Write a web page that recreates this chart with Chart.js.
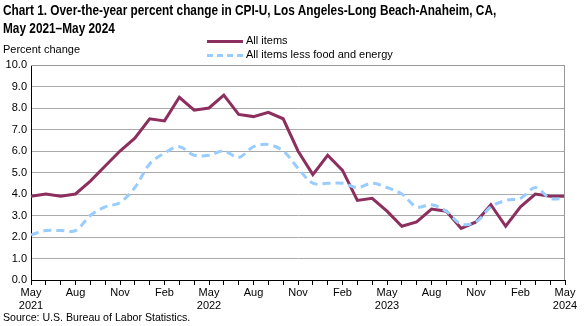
<!DOCTYPE html>
<html>
<head>
<meta charset="utf-8">
<script src="https://cdn.jsdelivr.net/npm/chart.js@4/dist/chart.umd.min.js"></script>
<style>
  body{margin:0;background:#fff;font-family:Arial,"Liberation Sans",sans-serif;}
  #wrap{position:relative;width:586px;height:326px;overflow:hidden;}
  #title{position:absolute;left:3px;top:1px;font-size:14px;font-weight:bold;line-height:18px;color:#000;
    white-space:nowrap;transform:scaleX(0.845);transform-origin:0 0;}
  #ytitle{position:absolute;left:3px;top:43px;font-size:11px;color:#000;}
  .leg{position:absolute;left:207px;font-size:11px;color:#000;height:14px;line-height:14px;white-space:nowrap;}
  .leg span.sw{display:inline-block;width:36px;vertical-align:middle;margin-right:3px;}
  #source{position:absolute;left:3px;top:311px;font-size:10.6px;color:#000;}
  canvas{position:absolute;left:0;top:0;}
</style>
</head>
<body>
<div id="wrap">
  <canvas id="c" width="586" height="326"></canvas>
  <div id="title">Chart 1. Over-the-year percent change in CPI-U, Los Angeles-Long Beach-Anaheim, CA,<br>May 2021–May 2024</div>
  <div id="ytitle">Percent change</div>
  <div class="leg" style="top:33px"><span class="sw" style="border-top:3px solid #8c2f5e"></span>All items</div>
  <div class="leg" style="top:47px"><span class="sw" style="border-top:3px dashed #99ccff"></span>All items less food and energy</div>
  <div id="source">Source: U.S. Bureau of Labor Statistics.</div>
</div>
<script>
const months = ['May 2021','Jun 2021','Jul 2021','Aug 2021','Sep 2021','Oct 2021','Nov 2021','Dec 2021',
  'Jan 2022','Feb 2022','Mar 2022','Apr 2022','May 2022','Jun 2022','Jul 2022','Aug 2022','Sep 2022','Oct 2022','Nov 2022','Dec 2022',
  'Jan 2023','Feb 2023','Mar 2023','Apr 2023','May 2023','Jun 2023','Jul 2023','Aug 2023','Sep 2023','Oct 2023','Nov 2023','Dec 2023',
  'Jan 2024','Feb 2024','Mar 2024','Apr 2024','May 2024'];

const allItems = [3.9,4.0,3.9,4.0,4.6,5.3,6.0,6.6,7.5,7.4,8.5,7.9,
  8.0,8.6,7.7,7.6,7.8,7.5,6.0,4.9,5.8,5.1,3.7,3.8,
  3.2,2.5,2.7,3.3,3.2,2.4,2.7,3.5,2.5,3.4,4.0,3.9,3.9];

const coreItems = [2.1,2.3,2.3,2.3,3.0,3.4,3.6,4.3,5.4,5.9,6.2,5.8,
  5.8,6.0,5.7,6.2,6.3,6.0,5.2,4.5,4.5,4.5,4.3,4.5,
  4.3,4.0,3.4,3.5,3.2,2.6,2.7,3.4,3.7,3.8,4.3,3.8,3.8];

// labels shown under the axis, every third month
const tickLabels = {0:['May','2021'],3:'Aug',6:'Nov',9:'Feb',12:['May','2022'],15:'Aug',18:'Nov',21:'Feb',
  24:['May','2023'],27:'Aug',30:'Nov',33:'Feb',36:['May','2024']};

const yTicks = [0,1,2,3,4,5,6,7,8,9,10];

const boxPlugin = {
  id:'box',
  afterDraw(chart){
    const a = chart.chartArea, ctx = chart.ctx;
    ctx.save();
    ctx.strokeStyle = '#999';
    ctx.lineWidth = 1;
    ctx.beginPath();
    ctx.moveTo(a.left, a.top + 0.5);
    ctx.lineTo(a.right - 0.5, a.top + 0.5);
    ctx.lineTo(a.right - 0.5, a.bottom);
    ctx.stroke();
    ctx.restore();
  }
};

new Chart(document.getElementById('c'), {
  type:'line',
  data:{
    labels: months,
    datasets:[
      {label:'All items less food and energy', data:coreItems, borderColor:'#99ccff', borderWidth:3,
       borderDash:[8,5], pointRadius:0, tension:0.35, fill:false},
      {label:'All items', data:allItems, borderColor:'#8c2f5e', borderWidth:3,
       pointRadius:0, tension:0, fill:false}
    ]
  },
  options:{
    responsive:false,
    animation:false,
    layout:{padding:{left:0, right:21, top:65, bottom:0}},
    plugins:{legend:{display:false}, tooltip:{enabled:false}},
    scales:{
      x:{
        offset:false,
        grid:{drawOnChartArea:false, color:'#000', tickLength:5, tickColor:'#000'},
        border:{color:'#000'},
        ticks:{autoSkip:false, maxRotation:0, padding:1, color:'#000',
          font:{family:'Arial, "Liberation Sans"', size:11},
          callback:(v,i)=> tickLabels[i] || ''},
        afterFit(s){ s.height = 46; }
      },
      y:{
        min:0, max:10,
        afterBuildTicks(s){ s.ticks = yTicks.map(v=>({value:v})); },
        grid:{color:'#aaa', tickLength:0},
        border:{color:'#000'},
        ticks:{padding:4, color:'#000', font:{family:'Arial, "Liberation Sans"', size:11},
          callback:v=> v.toFixed(1)},
        afterFit(s){ s.width = 31; }
      }
    }
  },
  plugins:[boxPlugin]
});
</script>
</body>
</html>
